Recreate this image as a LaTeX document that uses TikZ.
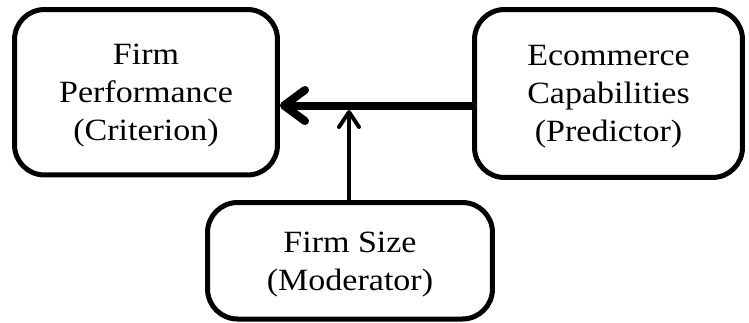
\documentclass[tikz,border=0pt]{standalone}
\usepackage{fontspec}
\setmainfont[FakeStretch=1.1]{Liberation Serif}
\usetikzlibrary{arrows.meta}

\tikzset{
  px/.style={x=0.02cm, y=-0.02cm},
  varbox/.style={draw=black, line width=0.1cm, rounded corners=0.6cm,
    fill=white, inner sep=0pt},
  vartext/.style={align=center, inner sep=0pt, yshift=-0.07cm,
    font=\fontsize{17.6}{21.6}\selectfont},
  mainlink/.style={line width=0.16cm, line cap=round,
    -{Straight Barb[round, length=0.42cm, width=0.62cm]}},
  modlink/.style={line width=0.08cm, line cap=round,
    -{Straight Barb[round, length=0.3cm, width=0.4cm]}},
  shadowlink/.style={draw=black!25, xshift=0.02cm, yshift=-0.08cm}
}

\begin{document}
\begin{tikzpicture}[px]
  \useasboundingbox (0,0) rectangle (749,322);

  % the three variables
  \node[varbox, minimum width=5.26cm, minimum height=3.31cm,
    label={[vartext]center:Firm\\Performance\\(Criterion)}] (perf) at (146,92.25) {};
  \node[varbox, minimum width=5.36cm, minimum height=3.36cm,
    label={[vartext]center:Ecommerce\\Capabilities\\(Predictor)}] (ecom) at (608.5,93.5) {};
  \node[varbox, minimum width=5.7cm, minimum height=2.33cm,
    label={[vartext]center:Firm Size\\(Moderator)}] (size) at (350,260.75) {};

  % level of the main path and the point the moderator meets it
  \coordinate (lane) at (0,105.5);
  \coordinate (meet) at (349,110);

  % predictor -> criterion, with its soft drop shadow
  \draw[mainlink, shadowlink] (ecom.west |- lane) -- (perf.east |- lane);
  \draw[mainlink] (ecom.west |- lane) -- (perf.east |- lane);

  % moderator acting on the main path
  \draw[modlink] (size.north -| meet) -- (meet);
\end{tikzpicture}
\end{document}
